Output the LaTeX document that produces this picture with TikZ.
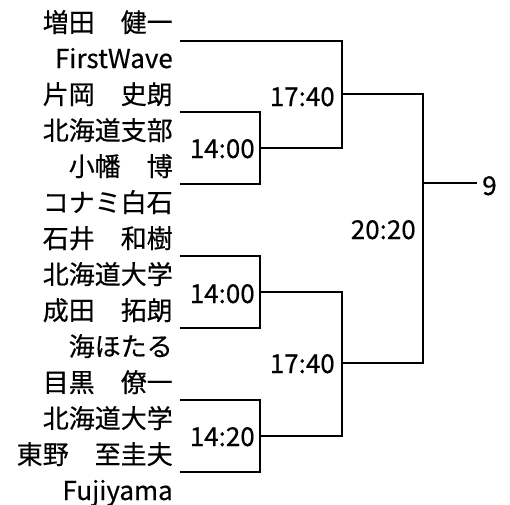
\documentclass[tikz,border=0pt]{standalone}
\usepackage{fontspec}
\setmainfont{Noto Sans CJK JP}[FakeBold=0.4]
\begin{document}
\begin{tikzpicture}[x=0.75pt,y=-0.75pt,
  player/.style={anchor=base east,inner sep=0pt,font=\fontsize{19.5}{23}\selectfont},
  slot/.style={anchor=base east,inner sep=0pt,font=\fontsize{19.5}{23}\selectfont},
  wire/.style={line width=2.1pt,line join=miter,line cap=butt}]
\useasboundingbox (0,0) rectangle (510,504);
% names
\node[player] (p1)  at (173,32)  {増田　健一};
\node[player] (t1)  at (173,68)  {FirstWave};
\node[player] (p2)  at (173,104) {片岡　史朗};
\node[player] (t2)  at (173,140) {北海道支部};
\node[player] (p3)  at (173,176) {小幡　博};
\node[player] (t3)  at (173,212) {コナミ白石};
\node[player] (p4)  at (173,248) {石井　和樹};
\node[player] (t4)  at (173,284) {北海道大学};
\node[player] (p5)  at (173,320) {成田　拓朗};
\node[player] (t5)  at (173,356) {海ほたる};
\node[player] (p6)  at (173,392) {目黒　僚一};
\node[player] (t6)  at (173,428) {北海道大学};
\node[player] (p7)  at (173,464) {東野　至圭夫};
\node[player] (t7)  at (173,500) {Fujiyama};
% times
\node[slot] (m1) at (255,158) {14:00};
\node[slot] (m2) at (255,303) {14:00};
\node[slot] (m3) at (255,446) {14:20};
\node[slot] (s1) at (335,106) {17:40};
\node[slot] (s2) at (335,373) {17:40};
\node[slot] (f)  at (416,239) {20:20};
\node[anchor=base west,inner sep=0pt,font=\fontsize{19.5}{23}\selectfont] (w) at (482,195) {9};
% bracket points
\coordinate (a1) at (180,41);
\coordinate (a2) at (342,41);
\coordinate (a3) at (342,148);
\coordinate (b1) at (180,112);
\coordinate (b2) at (260,112);
\coordinate (b3) at (260,184);
\coordinate (b4) at (180,184);
\coordinate (bm) at (260,148);
\coordinate (c1) at (180,256);
\coordinate (c2) at (260,256);
\coordinate (c3) at (260,328);
\coordinate (c4) at (180,328);
\coordinate (cm) at (260,292);
\coordinate (d1) at (180,400);
\coordinate (d2) at (260,400);
\coordinate (d3) at (260,472);
\coordinate (d4) at (180,472);
\coordinate (dm) at (260,436);
\coordinate (e1) at (342,292);
\coordinate (e2) at (342,436);
\coordinate (g1) at (342,94);
\coordinate (g2) at (423,94);
\coordinate (g3) at (423,363);
\coordinate (g4) at (342,363);
\coordinate (h1) at (423,183);
\coordinate (h2) at (477,183);
% connectors
\draw[wire] (a1) -- (a2) -- (a3) -- (bm);
\draw[wire] (b1) -- (b2) -- (b3) -- (b4);
\draw[wire] (c1) -- (c2) -- (c3) -- (c4);
\draw[wire] (d1) -- (d2) -- (d3) -- (d4);
\draw[wire] (cm) -- (e1) -- (e2) -- (dm);
\draw[wire] (g1) -- (g2) -- (g3) -- (g4);
\draw[wire] (h1) -- (h2);
\end{tikzpicture}
\end{document}
